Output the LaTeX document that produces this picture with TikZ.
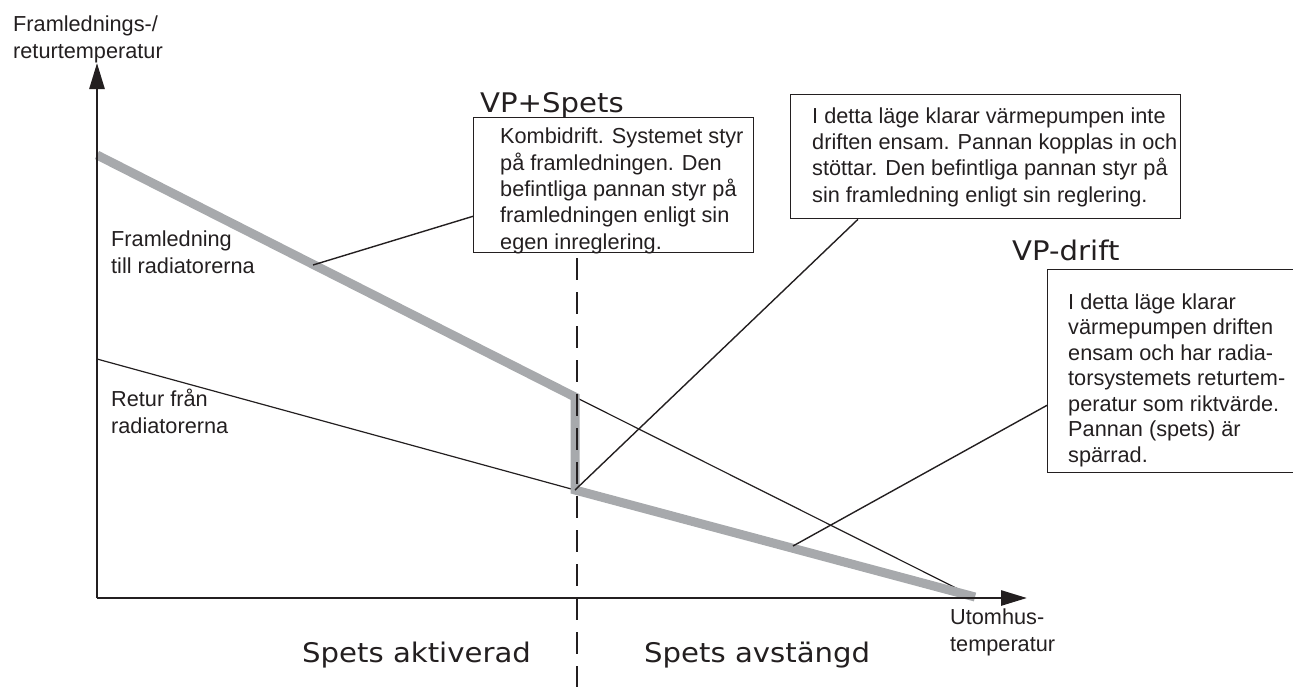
\documentclass[tikz,border=0pt]{standalone}
\usepackage{fontspec}
\setmainfont{Liberation Sans}
\newfontfamily\widefont[FakeStretch=1.08]{DejaVu Sans}
\usetikzlibrary{arrows.meta}

\definecolor{ink}{RGB}{35,31,32}
\definecolor{linegray}{RGB}{167,169,172}

\begin{document}
\begin{tikzpicture}[x=1pt,y=-1pt,>={Triangle[length=26pt,width=15pt]},
                    axis/.style={draw=ink,line width=2.7pt},
                    supply/.style={draw=linegray,line width=9pt},
                    thin line/.style={draw=ink,line width=1.2pt},
                    callout/.style={draw=ink,line width=1.4pt},
                    divider/.style={draw=ink,line width=2.4pt,dash pattern=on 22pt off 12pt},
                    box/.style={draw=ink,line width=1.3pt,inner sep=0,anchor=north west},
                    box text/.style={inner sep=0,anchor=base west,align=left,text=ink,
                                     font=\fontsize{21.7}{26.3}\selectfont},
                    mode/.style={inner sep=0,anchor=base west,text=ink,
                                 font=\widefont\fontsize{27}{30}\selectfont}]
  \useasboundingbox (0,0) rectangle (1293,686);
  \clip (0,0) rectangle (1293,686);

  % points of the curves
  \coordinate (origin) at (97,598);
  \coordinate (ytop) at (97,63);
  \coordinate (xend) at (1027,598);
  \coordinate (f0) at (97,155);
  \coordinate (f1) at (575,397);
  \coordinate (f2) at (575,490);
  \coordinate (f3) at (975,597);
  \coordinate (r0) at (97,359);
  \coordinate (u1) at (962,591);
  \coordinate (dtop) at (577,258);
  \coordinate (dbot) at (577,690);
  \coordinate (c1) at (313,265);
  \coordinate (c3) at (793,546);

  % text boxes (text nodes sit on the baseline of their last line)
  \node[box,minimum width=280,minimum height=135] (kombi) at (473,117) {};
  \node[box text] (kombitext) at (500,249) {Kombidrift. Systemet styr\\på framledningen. Den\\befintliga pannan styr på\\framledningen enligt sin\\egen inreglering.};
  \node[box,minimum width=390,minimum height=124] (info) at (790,94) {};
  \node[box text] (infotext) at (812,202) {I detta läge klarar värmepumpen inte\\driften ensam. Pannan kopplas in och\\stöttar. Den befintliga pannan styr på\\sin framledning enligt sin reglering.};
  \node[box,minimum width=270,minimum height=203] (spaerr) at (1047,269) {};
  \node[box text,font=\fontsize{21.7}{25.5}\selectfont] (spaerrtext) at (1068,462) {I detta läge klarar\\värmepumpen driften\\ensam och har radia-\\torsystemets returtem-\\peratur som riktvärde.\\Pannan (spets) är\\spärrad.};

  % labels
  \node[box text] (ylabel) at (13,58) {Framlednings-/\\returtemperatur};
  \node[box text] (framlabel) at (111,273) {Framledning\\till radiatorerna};
  \node[box text] (returlabel) at (111,433) {Retur från\\radiatorerna};
  \node[box text] (xlabel) at (950,651) {Utomhus-\\temperatur};
  \node[mode] (vpspets) at (480,112) {VP+Spets};
  \node[mode] (vpdrift) at (1012,260) {VP-drift};
  \node[mode] (aktiv) at (302,662) {Spets aktiverad};
  \node[mode] (avst) at (644,662) {Spets avstängd};

  % curves
  \draw[thin line] (r0) -- (f2);
  \draw[thin line] (f1) -- (u1);
  \draw[supply] (f0) -- (f1) -- (f2) -- (f3);
  \draw[divider] (dtop) -- (dbot);
  \draw[callout] (c1) -- ([yshift=37pt]kombi.south west);
  \draw[callout] (f2) -- ([xshift=68pt]info.south west);
  \draw[callout] (c3) -- ([yshift=68pt]spaerr.south west);

  % axes
  \draw[axis,->] (origin) -- (ytop);
  \draw[axis,->] (origin) -- (xend);
\end{tikzpicture}
\end{document}
